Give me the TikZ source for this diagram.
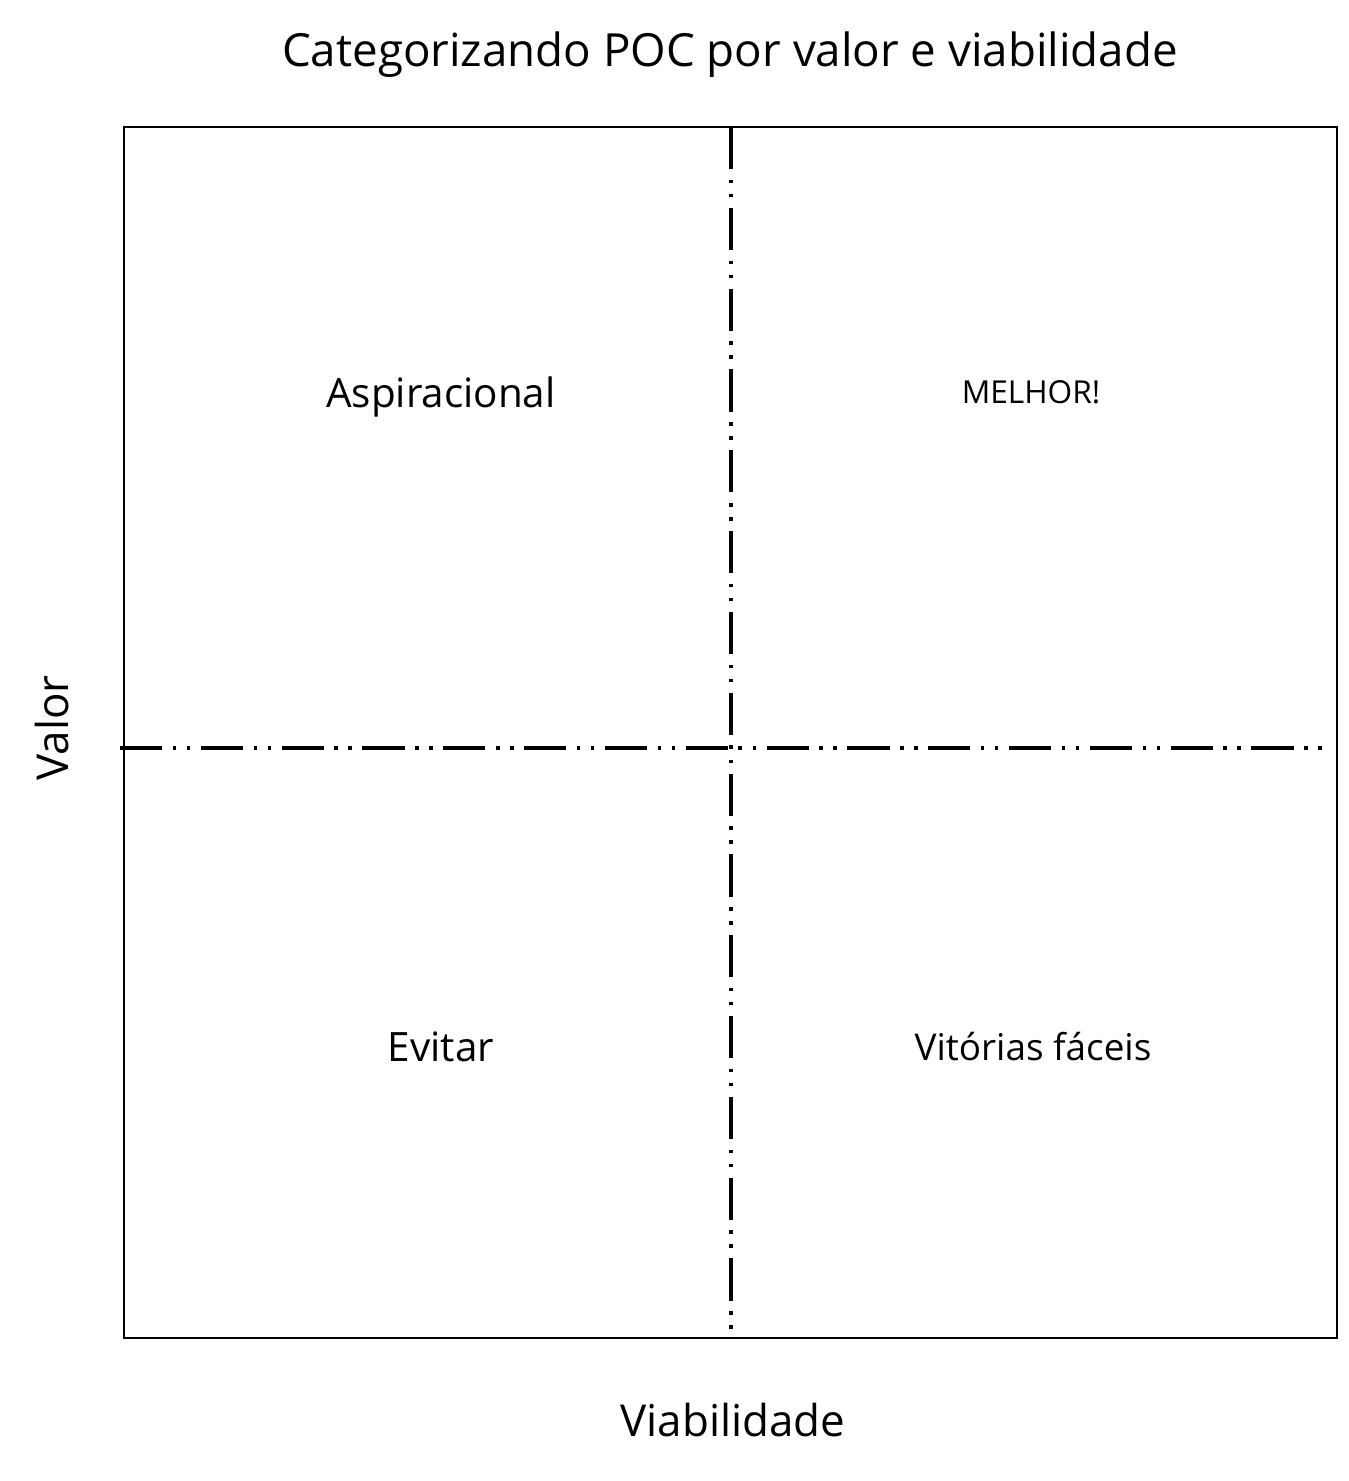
\documentclass[tikz,border=0pt]{standalone}
\usepackage{fontspec}
\setmainfont{Open Sans}
\begin{document}
\begin{tikzpicture}[x=0.02cm,y=-0.02cm,
  divider/.style={line width=2.2pt, dash pattern=on 24pt off 6pt on 2pt off 6pt on 2pt off 6pt},
  label/.style={inner sep=0pt}]
  \useasboundingbox (0,0) rectangle (1349,1481);
     % Quadro
  \draw[line width=1pt] (124,127) rectangle (1337,1338);
  \coordinate (vtop) at (731,127);
  \coordinate (vbot) at (731,1332);
  \coordinate (hleft) at (120,748);
  \coordinate (hright) at (1330,748);
  \draw[divider] (vtop) -- (vbot);
  \draw[divider] (hleft) -- (hright);
     % Textos
  \node[label, font=\fontsize{26}{30}\selectfont] (titulo) at (730,55) {Categorizando POC por valor e viabilidade};
  \node[label, font=\fontsize{23}{27}\selectfont] (aspir) at (441,397) {Aspiracional};
  \node[label, font=\fontsize{18}{22}\selectfont] (melhor) at (1031,392) {MELHOR!};
  \node[label, font=\fontsize{23}{27}\selectfont] (evitar) at (441,1047) {Evitar};
  \node[label, font=\fontsize{21}{25}\selectfont] (vitorias) at (1033,1047) {Vitórias fáceis};
  \node[label, font=\fontsize{25}{29}\selectfont, rotate=90] (valor) at (52,728) {Valor};
  \node[label, font=\fontsize{25}{29}\selectfont] (viab) at (733,1420) {Viabilidade};
\end{tikzpicture}
\end{document}
